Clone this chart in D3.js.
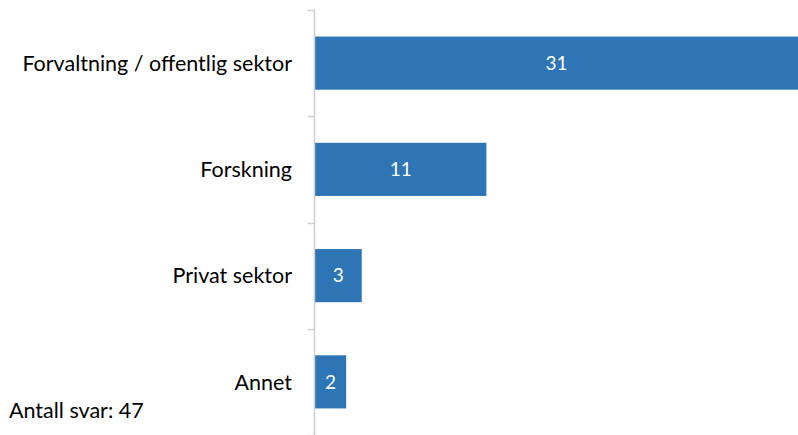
<!DOCTYPE html>
<html>
<head>
<meta charset="utf-8">
<script src="https://cdn.jsdelivr.net/npm/d3@7"></script>
<style>
  body { margin: 0; background: #fff; }
  svg { display: block; font-family: Lato, "Open Sans", sans-serif; }
</style>
</head>
<body>
<div id="chart"></div>
<script>
const categories = ["Forvaltning / offentlig sektor", "Forskning", "Privat sektor", "Annet"];
const values = [31, 11, 3, 2];
const totalAnswers = 47;

const W = 798, H = 435;
const axisX = 314.5;

const svg = d3.select("#chart").append("svg")
    .attr("width", W)
    .attr("height", H);

const y = d3.scaleBand()
    .domain(categories)
    .range([10, 435])
    .paddingInner(0.5)
    .paddingOuter(0.25);

const x = d3.scaleLinear()
    .domain([0, 31])
    .range([315, 798]);

// bars
svg.selectAll(".bar")
    .data(categories)
    .enter().append("rect")
    .attr("class", "bar")
    .attr("x", x(0))
    .attr("y", d => y(d))
    .attr("width", (d, i) => x(values[i]) - x(0))
    .attr("height", y.bandwidth())
    .attr("fill", "#2e75b6");

// value labels
svg.selectAll(".val")
    .data(categories)
    .enter().append("text")
    .attr("class", "val")
    .attr("x", (d, i) => (x(0) + x(values[i])) / 2)
    .attr("y", d => y(d) + y.bandwidth() / 2)
    .attr("dy", "0.36em")
    .attr("text-anchor", "middle")
    .attr("fill", "#fff")
    .attr("font-size", 19)
    .text((d, i) => values[i]);

// axis with ticks between categories
const step = y.step();
const tickYs = d3.range(categories.length + 1).map(i => 10 + i * step);
const axis = svg.append("g");
axis.append("line")
    .attr("x1", axisX).attr("x2", axisX)
    .attr("y1", 10).attr("y2", H)
    .attr("stroke", "#d0d0d0")
    .attr("stroke-width", 1.5);
axis.selectAll(".tick")
    .data(tickYs)
    .enter().append("line")
    .attr("x1", axisX - 7).attr("x2", axisX)
    .attr("y1", d => Math.round(d) + 0.5).attr("y2", d => Math.round(d) + 0.5)
    .attr("stroke", "#d0d0d0")
    .attr("stroke-width", 1.5);

// category labels
svg.selectAll(".cat")
    .data(categories)
    .enter().append("text")
    .attr("class", "cat")
    .attr("x", 292)
    .attr("y", d => y(d) + y.bandwidth() / 2)
    .attr("dy", "0.36em")
    .attr("text-anchor", "end")
    .attr("fill", "#000")
    .attr("font-size", 21.5)
    .text(d => d);

svg.append("text")
    .attr("x", 9)
    .attr("y", 418)
    .attr("font-size", 21.5)
    .attr("fill", "#000")
    .text("Antall svar: " + totalAnswers);
</script>
</body>
</html>
